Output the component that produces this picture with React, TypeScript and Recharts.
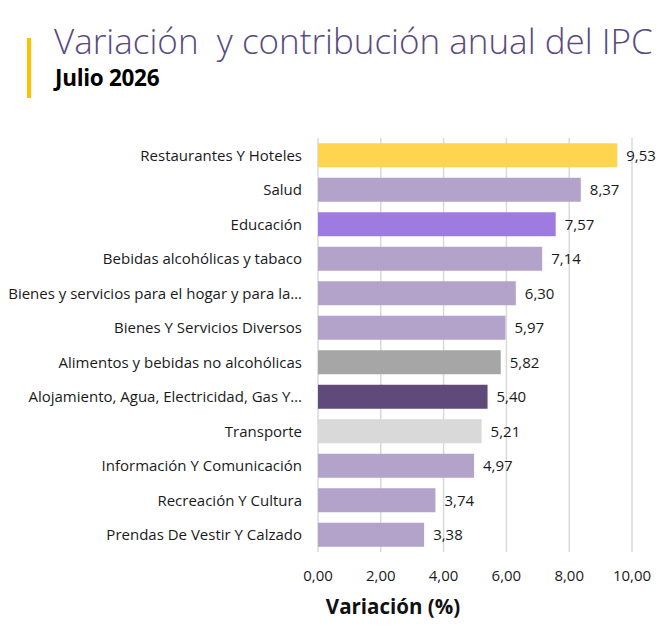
import { BarChart, Bar, XAxis, YAxis, CartesianGrid, Cell, LabelList, Label } from 'recharts'

const categories = [
  'Restaurantes Y Hoteles',
  'Salud',
  'Educación',
  'Bebidas alcohólicas y tabaco',
  'Bienes y servicios para el hogar y para la…',
  'Bienes Y Servicios Diversos',
  'Alimentos y bebidas no alcohólicas',
  'Alojamiento, Agua, Electricidad, Gas Y…',
  'Transporte',
  'Información Y Comunicación',
  'Recreación Y Cultura',
  'Prendas De Vestir Y Calzado',
]

const variacion = [9.53, 8.37, 7.57, 7.14, 6.3, 5.97, 5.82, 5.4, 5.21, 4.97, 3.74, 3.38]

const barColors = [
  '#FFD54F', '#B3A2C9', '#9E7BE0', '#B3A2C9', '#B3A2C9', '#B3A2C9',
  '#A6A6A6', '#604A7B', '#D9D9D9', '#B3A2C9', '#B3A2C9', '#B3A2C9',
]

const xTicks = [0, 2, 4, 6, 8, 10]

const data = categories.map((name, i) => ({ name, value: variacion[i] }))

const fmt = (v: number) => v.toFixed(2).replace('.', ',')

const font = '"Open Sans", "Noto Sans", sans-serif'

export default function App() {
  return (
    <div style={{ position: 'absolute', left: 0, top: 0, width: 664, height: 628, background: '#fff', fontFamily: font }}>
      <div style={{ position: 'absolute', left: 27, top: 38, width: 4, height: 60, background: '#FFC000' }} />
      <div style={{ position: 'absolute', left: 54, top: 17, fontSize: 35, fontWeight: 300, color: '#5A4A7E', whiteSpace: 'pre', lineHeight: '48px' }}>
        {'Variación  y contribución anual del IPC'}
      </div>
      <div style={{ position: 'absolute', left: 55, top: 63, fontSize: 22.5, fontWeight: 700, color: '#000', lineHeight: '30px', letterSpacing: '-0.3px' }}>
        Julio 2026
      </div>
      <div style={{ position: 'absolute', left: 0, top: 0 }}>
        <BarChart
          width={664}
          height={628}
          data={data}
          layout="vertical"
          margin={{ top: 138, right: 32, bottom: 46, left: 0 }}
          barCategoryGap="15%"
        >
          <CartesianGrid horizontal={false} stroke="#D9D9D9" strokeWidth={1.5} />
          <XAxis
            type="number"
            domain={[0, 10]}
            ticks={xTicks}
            tickFormatter={fmt}
            axisLine={false}
            tickLine={false}
            tickSize={0}
            tickMargin={18}
            tick={{ fontSize: 15, fill: '#1a1a1a', fontFamily: font }}
            height={30}
          >
            <Label
              value="Variación (%)"
              position="bottom"
              offset={17}
              dx={-82}
              style={{ fontSize: 20.5, fontWeight: 700, fill: '#111', fontFamily: font }}
            />
          </XAxis>
          <YAxis
            type="category"
            dataKey="name"
            width={318}
            axisLine={false}
            tickLine={false}
            tickSize={0}
            tickMargin={16}
            interval={0}
            tick={{ fontSize: 15, fill: '#1a1a1a', fontFamily: font }}
          />
          <Bar dataKey="value" isAnimationActive={false}>
            {data.map((d, i) => (
              <Cell key={d.name} fill={barColors[i]} />
            ))}
            <LabelList
              dataKey="value"
              position="right"
              offset={9}
              formatter={(v: number) => fmt(v)}
              style={{ fontSize: 15, fill: '#1a1a1a', fontFamily: font }}
            />
          </Bar>
        </BarChart>
      </div>
    </div>
  )
}
